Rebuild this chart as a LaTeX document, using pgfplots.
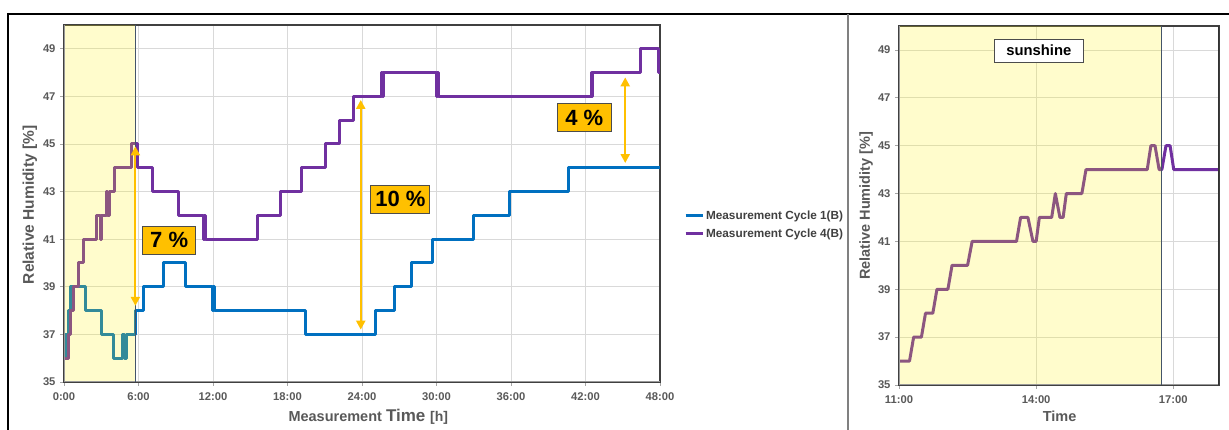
\documentclass[border=0pt]{standalone}
\usepackage{fontspec}
\setmainfont{Liberation Sans}
\usepackage{pgfplots}
\pgfplotsset{compat=1.18}
\usetikzlibrary{arrows.meta}
\definecolor{cblue}{RGB}{0,112,192}
\definecolor{cpurple}{RGB}{112,48,160}
\definecolor{corange}{RGB}{255,192,0}
\definecolor{tickgray}{RGB}{89,89,89}
\definecolor{gridgray}{RGB}{217,217,217}
\definecolor{slate}{RGB}{68,84,106}
\newcommand{\fs}[1]{\fontsize{#1}{#1}\selectfont}
\pgfplotsset{
  rh/.style={
    scale only axis, ymin=35, ymax=50, ytick={35,37,...,49},
    yticklabels={35,37,39,41,43,45,47,49},
    grid=major, major grid style={draw=gridgray, line width=0.7pt},
    tick pos=left, tick align=outside, major tick length=4pt,
    tick style={draw=gray!70, line width=0.6pt},
    ticklabel style={font=\bfseries\fs{11.2}, text=tickgray},
    xticklabel style={yshift=-3pt},
    yticklabel style={xshift=-1pt},
    axis line style={draw=black!75, line width=1.3pt},
    label style={inner sep=0pt},
  }
}
\begin{document}
\begin{tikzpicture}
\useasboundingbox (0pt,0pt) rectangle (1229pt,430pt);
\fill[white] (0pt,0pt) rectangle (1229pt,430pt);

% ---------------- left axis ----------------
\begin{axis}[rh,
  at={(64pt,48pt)}, anchor=south west,
  width=596pt, height=357pt,
  xmin=0, xmax=48, xtick={0,6,...,48},
  xticklabels={0:00,6:00,12:00,18:00,24:00,30:00,36:00,42:00,48:00},
  const plot,
  xlabel={\fs{14.5}Measurement \fs{17}Time \fs{14}[h]},
  xlabel style={at={(axis description cs:0.5105,0)}, anchor=north, yshift=-27pt, font=\bfseries, text=tickgray},
  ylabel={Relative Humidity [\%]},
  ylabel style={at={(axis description cs:-0.045,0.496)}, anchor=south, font=\bfseries\fs{15.5}, text=tickgray},
  legend style={at={(axis description cs:1.04,0.441)}, anchor=west, draw=none, fill=none,
    font=\bfseries\fs{11.8}, text=black!75, row sep=4pt, inner sep=0pt, cells={anchor=west}},
  legend image code/.code={\draw[#1] (0pt,0pt) -- (17pt,0pt);},
]
\addplot[cblue, line width=3pt, line join=round] coordinates {
(0,36)(0.15,37)(0.4,38)(0.55,39)(1.77,38)(2.98,37)(3.97,36)(4.72,37)(4.9,36)(5.05,37)
(5.72,38)(6.39,39)(8.05,40)(9.8,39)(11.95,38)(12.05,39)(12.15,38)(19.46,37)(25.05,38)
(26.6,39)(28.0,40)(29.7,41)(32.95,42)(35.9,43)(40.6,44)(48,44)};
\addlegendentry{Measurement Cycle 1(B)}
\addplot[cpurple, line width=3pt, line join=round] coordinates {
(0,36)(0.35,37)(0.54,38)(0.8,39)(1.15,40)(1.56,41)(2.63,42)(2.95,41)(3.02,42)(3.4,43)
(3.5,42)(3.7,43)(4.05,44)(5.45,45)(5.92,44)(7.15,43)(9.2,42)(11.25,41)(11.32,42)(11.38,41)
(15.6,42)(17.4,43)(19.15,44)(21.1,45)(22.2,46)(23.35,47)(25.6,48)(25.68,47)(25.76,48)
(30.0,47)(30.08,48)(30.16,47)(42.45,48)(42.5,47)(42.55,48)(46.4,49)(47.85,48)(48,48)};
\addlegendentry{Measurement Cycle 4(B)}
% shading drawn over the lines
\fill[yellow, opacity=0.2] (axis cs:0,35) rectangle (axis cs:5.72,50);
\draw[gray!80, line width=1pt] (rel axis cs:0,0) -- (rel axis cs:0,1);
\draw[gray!80, line width=1pt] (rel axis cs:0,0) -- (rel axis cs:1,0);
\draw[slate, line width=0.9pt] (axis cs:0,35) -- (axis cs:5.72,35) -- (axis cs:5.72,50);
% arrows
\draw[corange, line width=2.2pt, {Triangle[width=9pt,length=9pt]}-{Triangle[width=9pt,length=9pt]}]
  (axis cs:5.75,44.9) -- (axis cs:5.75,38.2);
\draw[corange, line width=2.2pt, {Triangle[width=9pt,length=9pt]}-{Triangle[width=9pt,length=9pt]}]
  (axis cs:23.9,46.85) -- (axis cs:23.9,37.2);
\draw[corange, line width=2.2pt, {Triangle[width=9pt,length=9pt]}-{Triangle[width=9pt,length=9pt]}]
  (axis cs:45.2,47.8) -- (axis cs:45.2,44.2);
\node[fill=corange, draw=black!70, line width=0.8pt, minimum width=53pt, minimum height=28pt, inner sep=0pt, font=\bfseries\fs{22}] at (axis cs:8.47,40.97) {7 \%};
\node[fill=corange, draw=black!70, line width=0.8pt, minimum width=59pt, minimum height=28pt, inner sep=0pt, font=\bfseries\fs{22}] at (axis cs:27.09,42.68) {10 \%};
\node[fill=corange, draw=black!70, line width=0.8pt, minimum width=54pt, minimum height=28pt, inner sep=0pt, font=\bfseries\fs{22}] at (axis cs:41.9,46.1) {4 \%};
\end{axis}

% ---------------- right axis ----------------
\begin{axis}[rh,
  at={(899pt,45pt)}, anchor=south west,
  width=320pt, height=359pt,
  xmin=11, xmax=18, xtick={11,14,17},
  xticklabels={11:00,14:00,17:00},
  xlabel={Time},
  xlabel style={at={(axis description cs:0.502,0)}, anchor=north, yshift=-26pt, font=\bfseries\fs{14.5}, text=tickgray},
  ylabel={Relative Humidity [\%]},
  ylabel style={at={(axis description cs:-0.0813,0.499)}, anchor=south, font=\bfseries\fs{14.5}, text=tickgray},
]
\addplot[cpurple, line width=3pt, line join=round] coordinates {
(11.0,36)(11.23,36)(11.32,37)(11.49,37)(11.58,38)(11.74,38)(11.83,39)(12.07,39)(12.16,40)
(12.5,40)(12.6,41)(13.57,41)(13.66,42)(13.82,42)(13.93,41)(14.0,41)(14.07,42)(14.34,42)
(14.42,43)(14.52,42)(14.59,42)(14.66,43)(15.0,43)(15.09,44)(16.43,44)(16.51,45)(16.6,45)
(16.69,44)(16.75,44)(16.84,45)(16.93,45)(17.01,44)(18.0,44)};
\fill[yellow, opacity=0.2] (axis cs:11,35) rectangle (axis cs:16.73,50);
\draw[gray!80, line width=1pt] (rel axis cs:0,0) -- (rel axis cs:0,1);
\draw[gray!80, line width=1pt] (rel axis cs:0,0) -- (rel axis cs:1,0);
\draw[slate, line width=0.9pt] (axis cs:11,35) -- (axis cs:16.73,35) -- (axis cs:16.73,50);
\draw[black!80, line width=2pt] (rel axis cs:1,0) -- (rel axis cs:1,1);
\node[fill=white, draw=black!70, line width=0.8pt, minimum width=89pt, minimum height=23pt, inner sep=0pt, font=\bfseries\fs{14.8}] at (axis cs:14.06,48.97) {sunshine};
\end{axis}

% ---------------- frames ----------------
\draw[black, line width=2.4pt] (7pt,416pt) -- (1229pt,416pt);
\draw[black, line width=2.2pt] (8.3pt,417pt) -- (8.3pt,0pt);
\draw[gray, line width=1.2pt] (848pt,416pt) -- (848pt,0pt);
\end{tikzpicture}
\end{document}
